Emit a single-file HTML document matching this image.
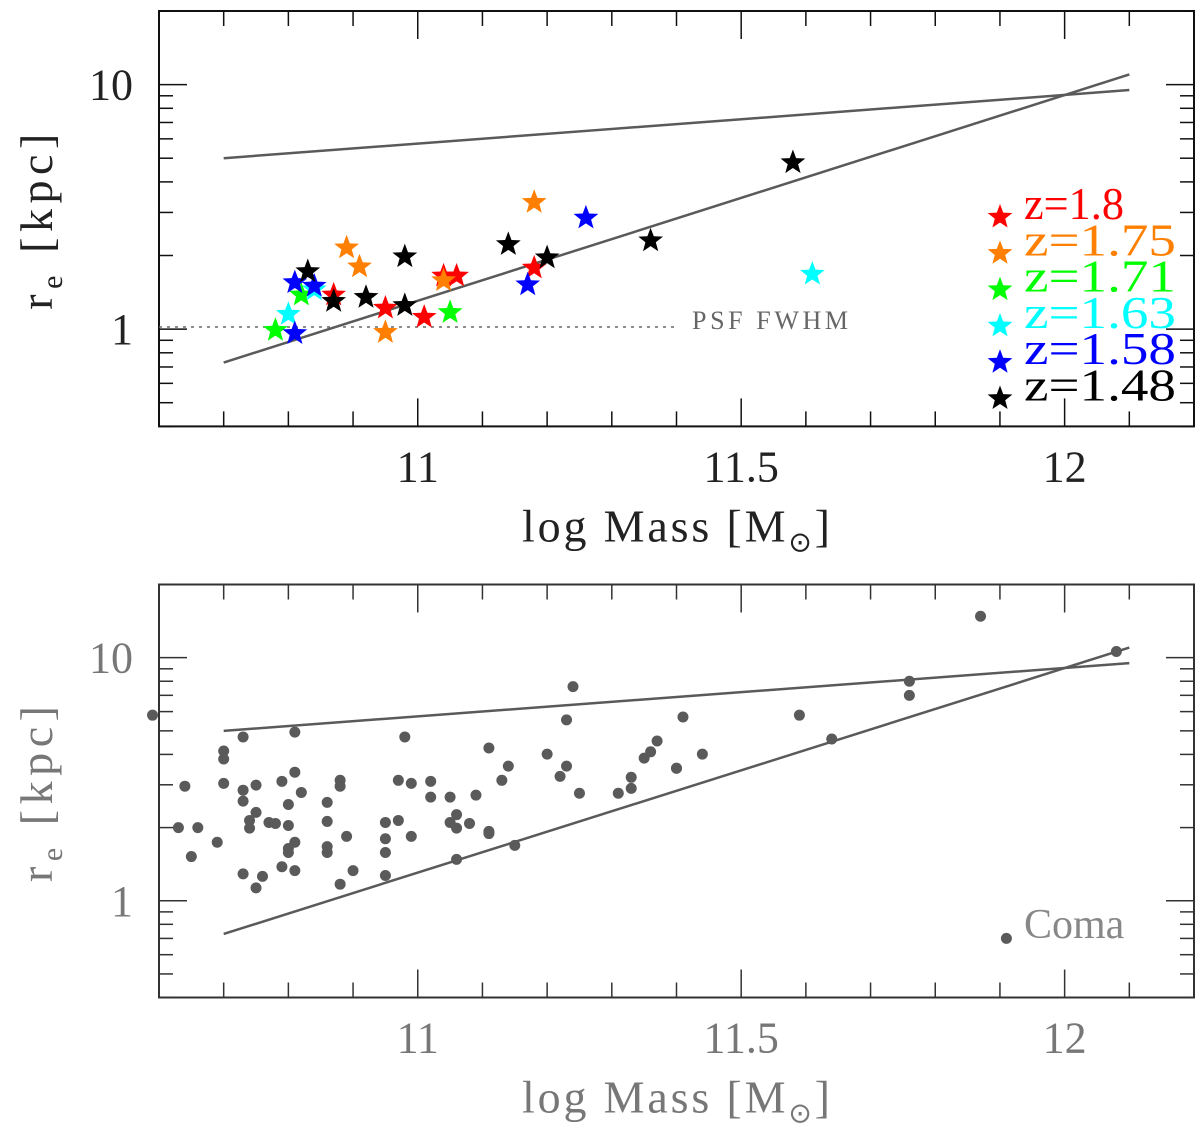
<!DOCTYPE html>
<html><head><meta charset="utf-8"><style>
html,body{margin:0;padding:0;background:#fff}
svg{display:block}
text{font-family:"Liberation Serif",serif}
</style></head><body>
<svg id="chart" width="1200" height="1126" viewBox="0 0 1200 1126" xmlns="http://www.w3.org/2000/svg"></svg>
<script>
// ---- data ----
const xTicksMajor = [11, 11.5, 12];
const xTickLabels = ["11", "11.5", "12"];
const yTicksMajor = [1, 10];
const yTickLabels = ["1", "10"];
const relLineX = [10.7, 12.1];
const upperLineR = [5.0, 9.5];
const lowerLineR = [0.73, 11.0];
const psfR = 1.02;
const psfEndX = 11.4;

const seriesNames = ["z=1.8", "z=1.75", "z=1.71", "z=1.63", "z=1.58", "z=1.48"];
const seriesColors = ["#ff0000", "#ff7f00", "#00ff00", "#00ffff", "#0000ff", "#000000"];
const redX = [10.87, 10.95, 11.01, 11.04, 11.06, 11.18];
const redR = [1.38, 1.22, 1.12, 1.65, 1.65, 1.78];
const orangeX = [10.89, 10.91, 10.95, 11.04, 11.18];
const orangeR = [2.15, 1.8, 0.97, 1.58, 3.3];
const greenX = [10.78, 10.82, 11.05];
const greenR = [0.99, 1.38, 1.17];
const cyanX = [10.80, 10.84, 11.61];
const cyanR = [1.15, 1.45, 1.68];
const blueX = [10.81, 10.84, 10.81, 11.17, 11.26];
const blueR = [1.55, 1.5, 0.96, 1.52, 2.85];
const blackX = [10.83, 10.87, 10.92, 10.98, 10.98, 11.14, 11.20, 11.36, 11.58];
const blackR = [1.72, 1.3, 1.35, 1.98, 1.25, 2.22, 1.96, 2.3, 4.8];

const comaX = [10.59,10.63,10.64,10.65,10.66,10.69,10.70,10.70,10.70,10.73,10.73,10.73,10.73,10.74,10.74,10.75,10.75,10.75,10.76,10.77,10.78,10.79,10.79,10.80,10.80,10.80,10.80,10.81,10.81,10.81,10.81,10.82,10.86,10.86,10.86,10.86,10.88,10.88,10.88,10.89,10.90,10.95,10.95,10.95,10.95,10.97,10.97,10.98,10.99,10.99,11.02,11.02,11.05,11.05,11.06,11.06,11.06,11.08,11.09,11.11,11.11,11.11,11.13,11.14,11.15,11.20,11.22,11.23,11.23,11.24,11.25,11.31,11.33,11.33,11.35,11.36,11.37,11.40,11.40,11.41,11.44,11.59,11.64,11.76,11.76,11.87,11.91,12.08];
const comaR = [5.8,2.0,2.96,1.52,2.0,1.74,3.83,3.04,4.13,4.72,2.85,2.57,1.29,2.14,1.99,2.99,2.31,1.13,1.26,2.10,2.08,3.10,1.38,2.49,1.64,1.58,2.04,1.74,3.38,1.33,4.94,2.79,2.54,2.12,1.58,1.67,2.96,3.13,1.17,1.84,1.33,2.10,1.80,1.58,1.27,3.13,2.14,4.72,3.04,1.84,3.10,2.67,2.10,2.67,1.48,1.99,2.26,2.08,2.72,1.93,1.89,4.25,3.13,3.58,1.69,4.01,3.25,3.58,5.55,7.6,2.77,2.77,2.9,3.22,3.86,4.1,4.54,3.51,3.51,5.7,4.01,5.8,4.63,8.0,7.0,14.8,0.70,10.6];

// ---- layout ----
const NS = "http://www.w3.org/2000/svg";
const svg = document.getElementById("chart");
const X0 = 159, X1 = 1194, XMIN = 10.6, XMAX = 12.2;
const YMIN = 0.4, YMAX = 20;
const panels = [{top: 11, bottom: 426.4, frame: "#111", text: "#222"}, {top: 584.5, bottom: 997.5, frame: "#333", text: "#777"}];
function xs(m) { return X0 + (m - XMIN) / (XMAX - XMIN) * (X1 - X0); }
function ys(p, r) { return p.bottom - (Math.log10(r) - Math.log10(YMIN)) / (Math.log10(YMAX) - Math.log10(YMIN)) * (p.bottom - p.top); }
function mk(tag, attrs, parent) {
  const e = document.createElementNS(NS, tag);
  for (const k in attrs) e.setAttribute(k, attrs[k]);
  (parent || svg).appendChild(e);
  return e;
}
function starPts(cx, cy, R) {
  const r = R * 0.42; let s = [];
  for (let i = 0; i < 10; i++) {
    const a = -Math.PI / 2 + i * Math.PI / 5, rr = i % 2 ? r : R;
    s.push((cx + rr * Math.cos(a)).toFixed(1) + "," + (cy + rr * Math.sin(a)).toFixed(1));
  }
  return s.join(" ");
}

panels.forEach((p, pi) => {
  const g = mk("g", {});
  
  
  const fr = mk("rect", {x: X0, y: p.top, width: X1 - X0, height: p.bottom - p.top, fill: "none", stroke: p.frame, "stroke-width": 2}, g);
  
  
  for (let i = 0; i <= 16; i++) {
    const m = XMIN + i * 0.1, x = xs(m);
    const major = Math.abs(m * 2 - Math.round(m * 2)) < 1e-6;
    const L = major ? 28 : 15;
    const t1 = mk("line", {x1: x, x2: x, y1: p.bottom, y2: p.bottom - L, stroke: p.frame, "stroke-width": 1.5}, g);
    
    
    const t2 = mk("line", {x1: x, x2: x, y1: p.top, y2: p.top + L, stroke: p.frame, "stroke-width": 1.5}, g);
    
    
  }
  xTicksMajor.forEach((m, i) => {
    const t = mk("text", {x: xs(m), y: p.bottom + 55, "text-anchor": "middle", "font-size": 44, fill: p.text}, g);
    t.textContent = xTickLabels[i];
    
    
  });
  [0.4,0.5,0.6,0.7,0.8,0.9,1,2,3,4,5,6,7,8,9,10,20].forEach(v => {
    const y = ys(p, v);
    const major = (v === 1 || v === 10);
    const L = major ? 28 : 14;
    const a = mk("line", {x1: X0, x2: X0 + L, y1: y, y2: y, stroke: p.frame, "stroke-width": 1.5}, g);
    
    
    const b = mk("line", {x1: X1, x2: X1 - L, y1: y, y2: y, stroke: p.frame, "stroke-width": 1.5}, g);
    
    
  });
  yTicksMajor.forEach((v, i) => {
    const t = mk("text", {x: 133, y: ys(p, v) + 15, "text-anchor": "end", "font-size": 44, fill: p.text}, g);
    t.textContent = yTickLabels[i];
    
    
  });
  const yt = mk("text", {transform: `translate(52,${(p.top + p.bottom) / 2 + 3}) rotate(-90)`, "text-anchor": "middle", "font-size": 46, fill: p.text, textLength: 176, lengthAdjust: "spacing"}, g);
  yt.innerHTML = 'r<tspan font-size="30" dy="10">e</tspan><tspan dy="-10"> [kpc]</tspan>';
  
  
  const xt = mk("text", {x: 676, y: p.bottom + 115, "text-anchor": "middle", "font-size": 46, fill: p.text, textLength: 308, lengthAdjust: "spacing"}, g);
  xt.innerHTML = 'log Mass [M<tspan font-size="28" dy="10">⊙</tspan><tspan dy="-10">]</tspan>';
  
  
  const up = mk("line", {x1: xs(relLineX[0]), y1: ys(p, upperLineR[0]), x2: xs(relLineX[1]), y2: ys(p, upperLineR[1]), stroke: "#5a5a5a", "stroke-width": 2.5}, g);
  
  
  const lo = mk("line", {x1: xs(relLineX[0]), y1: ys(p, lowerLineR[0]), x2: xs(relLineX[1]), y2: ys(p, lowerLineR[1]), stroke: "#5a5a5a", "stroke-width": 2.5}, g);
  
  
});

const P0 = panels[0], P1 = panels[1];
const psf = mk("line", {x1: X0, x2: xs(psfEndX), y1: ys(P0, psfR), y2: ys(P0, psfR), stroke: "#666", "stroke-width": 1.5, "stroke-dasharray": "3,5"});


const psft = mk("text", {x: 692, y: ys(P0, psfR) + 2, "font-size": 26, fill: "#666", textLength: 156});
psft.textContent = "PSF FWHM";



const sX = [redX, orangeX, greenX, cyanX, blueX, blackX];
const sR = [redR, orangeR, greenR, cyanR, blueR, blackR];
sX.forEach((xsArr, si) => {
  xsArr.forEach((m, i) => {
    const st = mk("polygon", {points: starPts(xs(m), ys(P0, sR[si][i]), 13), fill: seriesColors[si]});
    
    
  });
  const ly = 217 + si * 36.3;
  const ls = mk("polygon", {points: starPts(1000, ly, 13), fill: seriesColors[si]});
  
  
  const lt = mk("text", {x: 1024, y: ly + 2, "font-size": 45, fill: seriesColors[si], textLength: si === 0 ? 100 : 152, lengthAdjust: "spacingAndGlyphs"});
  lt.textContent = seriesNames[si];
  
  
});

comaX.forEach((m, i) => {
  const c = mk("circle", {cx: xs(m), cy: ys(P1, comaR[i]), r: 5.5, fill: "#5a5a5a"});
  
  
});
const ct = mk("text", {x: 1024, y: 938, "font-size": 42, fill: "#888"});
ct.textContent = "Coma";


</script>
</body></html>
